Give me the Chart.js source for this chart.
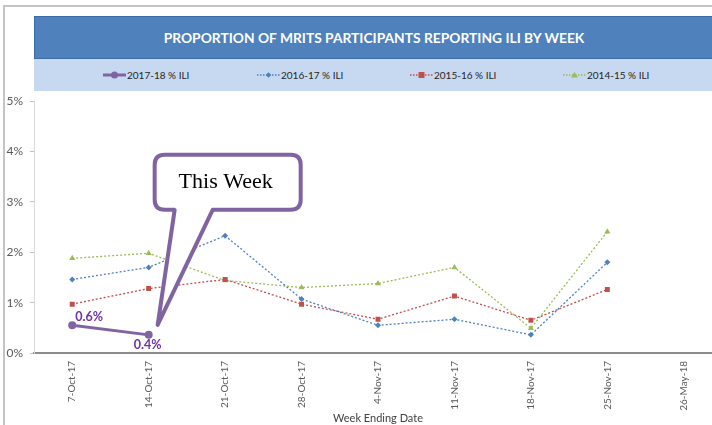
<!DOCTYPE html>
<html>
<head>
<meta charset="utf-8">
<script src="https://cdn.jsdelivr.net/npm/chart.js@4"></script>
<style>
    html, body { margin: 0; padding: 0; background: #fff; overflow: hidden; }
    body { width: 712px; height: 425px; position: relative; font-family: Lato, "Open Sans", sans-serif; }
    .frame { position: absolute; left: 3px; top: 5px; width: 760px; height: 440px; border-left: 2px solid #c4c4c4; border-top: 2px solid #c4c4c4; }
    .title-band { position: absolute; left: 34px; top: 16px; width: 680px; height: 43px; background: #4f81bd; border: 1px solid #3c6aa3; box-sizing: border-box;
        color: #fff; font-weight: bold; font-size: 13.8px; line-height: 41px; text-align: center; }
    .legend-band { position: absolute; left: 34px; top: 59px; width: 690px; height: 32px; background: #c6d9f1; }
    .leg { position: absolute; top: 10px; font-size: 10px; color: #262626; white-space: nowrap; line-height: 12px; }
    .leg svg { vertical-align: middle; margin-right: 1px; position: relative; top: -1px; }
    #chart { position: absolute; left: 0; top: 87px; }
</style>
</head>
<body>
<div class="frame"></div>
<div class="title-band">PROPORTION OF MRITS PARTICIPANTS REPORTING ILI BY WEEK</div>
<div class="legend-band" id="legend"></div>
<canvas id="chart" width="726" height="338"></canvas>
<script>
// ── Data ─────────────────────────────────────────────────────
const weeks = ["7-Oct-17", "14-Oct-17", "21-Oct-17", "28-Oct-17", "4-Nov-17", "11-Nov-17", "18-Nov-17", "25-Nov-17", "26-May-18"];
const ili1718 = [0.55, 0.36, null, null, null, null, null, null, null];
const ili1617 = [1.46, 1.70, 2.33, 1.07, 0.55, 0.67, 0.36, 1.80, null];
const ili1516 = [0.97, 1.28, 1.46, 0.97, 0.67, 1.13, 0.65, 1.26, null];
const ili1415 = [1.88, 1.98, 1.44, 1.30, 1.38, 1.70, 0.49, 2.41, null];
const ili1718Labels = ["0.6%", "0.4%"];
const yTickLabels = ["0%", "1%", "2%", "3%", "4%", "5%"];
const seriesNames = ["2017-18 % ILI", "2016-17 % ILI", "2015-16 % ILI", "2014-15 % ILI"];

const PURPLE = "#8064a2";
const BLUE = "#4f81bd";
const RED = "#c0504d";
const GREEN = "#9bbb59";

// ── Legend (HTML) ────────────────────────────────────────────
const legendItems = [
    { name: seriesNames[0], x: 69, marker: `<line x1="0" y1="6" x2="23" y2="6" stroke="${PURPLE}" stroke-width="3"/><circle cx="11.5" cy="6" r="3.5" fill="${PURPLE}"/>` },
    { name: seriesNames[1], x: 223, marker: `<line x1="0" y1="6" x2="23" y2="6" stroke="${BLUE}" stroke-width="1.3" stroke-dasharray="1.5,1.5"/><rect x="9.5" y="4" width="4" height="4" fill="${BLUE}" transform="rotate(45 11.5 6)"/>` },
    { name: seriesNames[2], x: 376, marker: `<line x1="0" y1="6" x2="23" y2="6" stroke="${RED}" stroke-width="1.3" stroke-dasharray="1.5,1.5"/><rect x="8.5" y="3" width="6" height="6" fill="${RED}"/>` },
    { name: seriesNames[3], x: 529, marker: `<line x1="0" y1="6" x2="23" y2="6" stroke="${GREEN}" stroke-width="1.3" stroke-dasharray="1.5,1.5"/><polygon points="11.5,3 15,8.5 8,8.5" fill="${GREEN}"/>` },
];
const legendEl = document.getElementById("legend");
legendItems.forEach(it => {
    const d = document.createElement("div");
    d.className = "leg";
    d.style.left = it.x + "px";
    d.innerHTML = `<svg width="23" height="12">${it.marker}</svg>${it.name}`;
    legendEl.appendChild(d);
});

// ── Plugins: data labels + "This Week" callout ───────────────
const labelPlugin = {
    id: "iliLabels",
    afterDatasetsDraw(chart) {
        const meta = chart.getDatasetMeta(0);
        const ctx = chart.ctx;
        ctx.save();
        ctx.font = "bold 12.5px Lato, sans-serif";
        ctx.fillStyle = "#7030a0";
        ctx.textBaseline = "middle";
        const p0 = meta.data[0], p1 = meta.data[1];
        ctx.textAlign = "left";
        ctx.fillText(ili1718Labels[0], p0.x + 3, p0.y - 8);
        ctx.textAlign = "center";
        ctx.fillText(ili1718Labels[1], p1.x - 1, p1.y + 10);
        ctx.restore();
    }
};

const calloutPlugin = {
    id: "callout",
    afterDatasetsDraw(chart) {
        const p = chart.getDatasetMeta(0).data[1];
        const ctx = chart.ctx;
        const L = p.x + 6, R = p.x + 152, T = p.y - 180, B = p.y - 125, r = 10;
        const tipX = p.x + 9, tipY = p.y - 10;
        const baseL = p.x + 26, baseR = p.x + 64;
        ctx.save();
        ctx.beginPath();
        ctx.moveTo(L + r, T);
        ctx.lineTo(R - r, T);
        ctx.quadraticCurveTo(R, T, R, T + r);
        ctx.lineTo(R, B - r);
        ctx.quadraticCurveTo(R, B, R - r, B);
        ctx.lineTo(baseR, B);
        ctx.lineTo(tipX, tipY);
        ctx.lineTo(baseL, B);
        ctx.lineTo(L + r, B);
        ctx.quadraticCurveTo(L, B, L, B - r);
        ctx.lineTo(L, T + r);
        ctx.quadraticCurveTo(L, T, L + r, T);
        ctx.closePath();
        ctx.fillStyle = "#fff";
        ctx.fill();
        ctx.lineWidth = 4;
        ctx.lineJoin = "round";
        ctx.strokeStyle = PURPLE;
        ctx.stroke();
        ctx.fillStyle = "#000";
        ctx.font = "22px 'Liberation Serif', 'Times New Roman', serif";
        ctx.textAlign = "center";
        ctx.textBaseline = "middle";
        ctx.fillText("This Week", p.x + 77, p.y - 153);
        ctx.restore();
    }
};

// ── Chart ────────────────────────────────────────────────────
const dotted = (label, data, color, pointStyle, radius) => ({
    label, data,
    borderColor: color,
    backgroundColor: color,
    borderWidth: 1.3,
    borderDash: [2, 2],
    pointStyle,
    pointRadius: radius,
    pointBorderWidth: 0,
    tension: 0,
    spanGaps: false,
});

new Chart(document.getElementById("chart"), {
    type: "line",
    data: {
        labels: weeks,
        datasets: [
            {
                label: seriesNames[0],
                data: ili1718,
                borderColor: PURPLE,
                backgroundColor: PURPLE,
                borderWidth: 3,
                pointStyle: "circle",
                pointRadius: 4,
                pointBorderWidth: 0,
                tension: 0,
            },
            dotted(seriesNames[1], ili1617, BLUE, "rectRot", 3),
            dotted(seriesNames[2], ili1516, RED, "rect", 3.5),
            dotted(seriesNames[3], ili1415, GREEN, "triangle", 3.5),
        ]
    },
    options: {
        responsive: false,
        devicePixelRatio: 1,
        animation: false,
        layout: { padding: { top: 3, left: 0, right: 0, bottom: 0 } },
        plugins: {
            legend: { display: false },
            title: { display: false },
            tooltip: { enabled: false },
        },
        scales: {
            x: {
                offset: true,
                afterFit: s => { s.height = 72; },
                grid: { display: false, drawTicks: false, offset: true },
                border: { display: true, color: "#8c8c8c", width: 2 },
                ticks: {
                    autoSkip: false, maxRotation: 90, minRotation: 90, padding: 8,
                    color: "#595959", font: { family: "Lato", size: 10 }
                },
                title: {
                    display: true, text: "Week Ending Date", color: "#404040",
                    font: { family: "Lato", size: 11 }, padding: { top: 0, bottom: 0 }
                }
            },
            y: {
                min: 0, max: 5,
                afterFit: s => { s.width = 34; },
                grid: { display: true, drawOnChartArea: false, drawTicks: true, tickLength: 4, color: "#bfbfbf" },
                border: { display: true, color: "#d9d9d9", width: 1 },
                ticks: {
                    stepSize: 1, padding: 7, color: "#595959",
                    font: { family: "Lato", size: 12 },
                    callback: (v, i) => yTickLabels[i]
                }
            }
        }
    },
    plugins: [labelPlugin, calloutPlugin]
});
</script>
</body>
</html>
